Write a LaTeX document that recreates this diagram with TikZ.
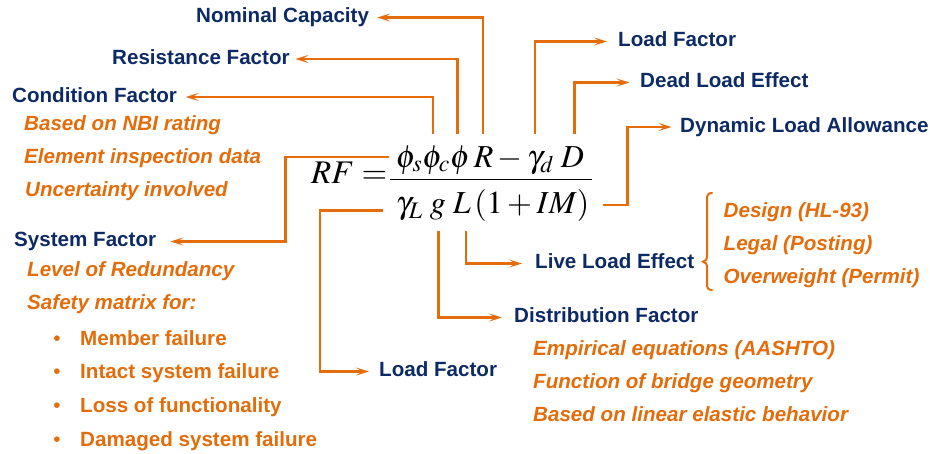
\documentclass[tikz,border=0pt]{standalone}
\usepackage{mathptmx}
\usepackage[no-math]{fontspec}
\newfontfamily\arialf{Liberation Sans}
\usetikzlibrary{arrows.meta}
\definecolor{org}{HTML}{E46C0A}
\definecolor{nav}{HTML}{0C2A66}
\tikzset{
  lbl/.style={anchor=west, inner sep=0pt, text height=15pt, text depth=4.5pt,
    font=\arialf\bfseries\fontsize{20.6}{24}\selectfont, text=nav},
  itm/.style={anchor=base west, inner sep=0pt,
    font=\arialf\bfseries\itshape\fontsize{20.6}{24}\selectfont, text=org},
  bitm/.style={anchor=base west, inner sep=0pt,
    font=\arialf\bfseries\fontsize{20.6}{24}\selectfont, text=org},
  bul/.style={anchor=base, inner sep=0pt,
    font=\arialf\fontsize{20.6}{24}\selectfont, text=org},
  conn/.style={draw=org, line width=2.2pt, -{Stealth[length=13pt,width=8pt,inset=6pt]}},
  eqn/.style={inner sep=0pt},
}
\begin{document}
\begin{tikzpicture}[x=1pt,y=-1pt]
\useasboundingbox (0,0) rectangle (930,453);

% equation
\node[eqn, anchor=base west, font=\fontsize{33}{38}\selectfont] (rf) at (311,183.5) {$RF=$};
\node[eqn, anchor=base, font=\fontsize{32}{36}\selectfont] (num) at (490,167) {$\phi_s\phi_c\phi\, R-\gamma_d\; D$};
\node[eqn, anchor=base, font=\fontsize{32}{36}\selectfont] (den) at (492.5,213.3) {$\gamma_L\; g\; L\,(1+IM)$};
\draw[line width=1.8pt] (390,179.5) -- (592,179.5);

% labels
\node[lbl] (nomcap) at (196,17.5) {Nominal Capacity};
\node[lbl] (resist) at (112,59) {Resistance Factor};
\node[lbl] (condf) at (12,97) {Condition Factor};
\node[lbl] (loadtop) at (618,41.5) {Load Factor};
\node[lbl] (dead) at (640,82.5) {Dead Load Effect};
\node[lbl] (dyn) at (680,127) {Dynamic Load Allowance};
\node[lbl] (sysf) at (14,241.5) {System Factor};
\node[lbl] (live) at (535,263.5) {Live Load Effect};
\node[lbl] (distf) at (514,317.5) {Distribution Factor};
\node[lbl] (loadbot) at (379,371.5) {Load Factor};

% items
\node[itm] (c1) at (24,130) {Based on NBI rating};
\node[itm] (c2) at (24,163) {Element inspection data};
\node[itm] (c3) at (25,196.5) {Uncertainty involved};
\node[itm] (s1) at (27,276) {Level of Redundancy};
\node[itm] (s2) at (27,309.5) {Safety matrix for:};
\node[bul] (b1) at (57,345) {\textbullet};
\node[bul] (b2) at (57,378.5) {\textbullet};
\node[bul] (b3) at (57,412.5) {\textbullet};
\node[bul] (b4) at (57,446) {\textbullet};
\node[bitm] (m1) at (80,345) {Member failure};
\node[bitm] (m2) at (80,378.5) {Intact system failure};
\node[bitm] (m3) at (80,412.5) {Loss of functionality};
\node[bitm] (m4) at (80,446) {Damaged system failure};
\node[itm] (d1) at (533,355) {Empirical equations (AASHTO)};
\node[itm] (d2) at (533,388) {Function of bridge geometry};
\node[itm] (d3) at (533,421) {Based on linear elastic behavior};
\node[itm] (l1) at (723.5,217) {Design (HL-93)};
\node[itm] (l2) at (723.5,250) {Legal (Posting)};
\node[itm] (l3) at (723.5,283) {Overweight (Permit)};

% brace
\draw[org, line width=2pt, line cap=round]
  (712,193) .. controls (708,193) and (707,195) .. (707,199)
  -- (707,255) .. controls (707,259) and (706,261.5) .. (703,261.7)
  .. controls (706,262) and (707,264) .. (707,268)
  -- (707,284) .. controls (707,288) and (708,290) .. (712,290);

% connector anchors
\coordinate (cNom) at (483.3,134);
\coordinate (cRes) at (457.5,134);
\coordinate (cCond) at (433.3,134);
\coordinate (cLoadT) at (535,134);
\coordinate (cDead) at (574.5,134);
\coordinate (cDyn) at (603,205);
\coordinate (cSys) at (389,156.7);
\coordinate (cLoadB) at (383,210.5);
\coordinate (cDist) at (438.5,230.5);
\coordinate (cLive) at (465.7,230.5);

\draw[conn, shorten >=8pt] (cNom) |- (nomcap.east);
\draw[conn, shorten >=5.5pt] (cRes) |- (resist.east);
\draw[conn, shorten >=8.5pt] (cCond) |- (condf.east);
\draw[conn, shorten >=11pt] (cLoadT) |- (loadtop.west);
\draw[conn, shorten >=10.5pt] (cDead) |- (dead.west);
\draw[conn, shorten >=8.5pt] (cDyn) -- ++(24.5,0) |- (dyn.west);
\draw[conn, shorten >=14pt] (cSys) -- ++(-103.5,0) |- (sysf.east);
\draw[conn, shorten >=10pt] (cLoadB) -- ++(-63,0) |- (loadbot.west);
\draw[conn, shorten >=12pt] (cDist) |- (distf.west);
\draw[conn, shorten >=13pt] (cLive) |- (live.west);
\end{tikzpicture}
\end{document}
